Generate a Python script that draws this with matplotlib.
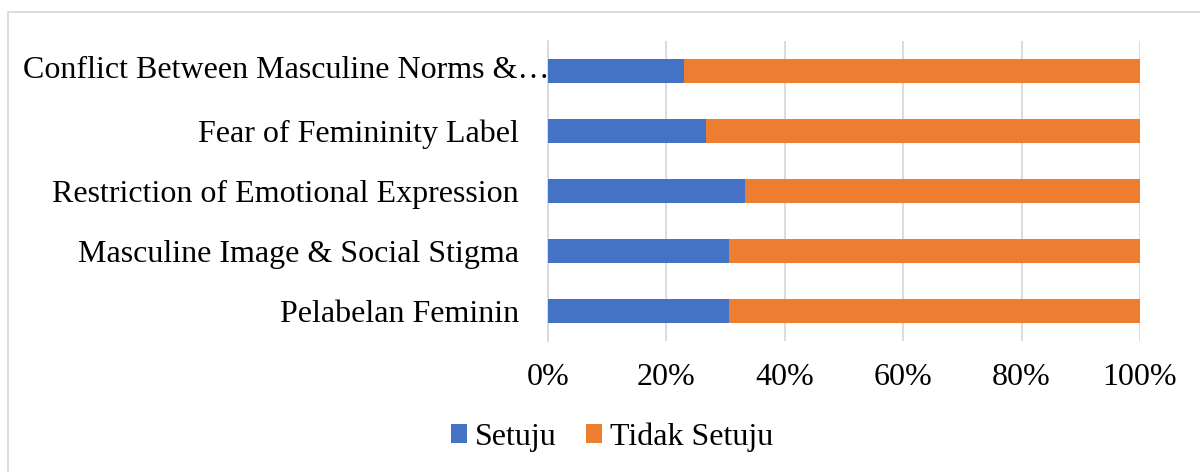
import matplotlib
matplotlib.use("Agg")
import matplotlib.pyplot as plt
from matplotlib.patches import Rectangle
from matplotlib.ticker import FuncFormatter, MultipleLocator

categories = [
    "Pelabelan Feminin",
    "Masculine Image & Social Stigma",
    "Restriction of Emotional Expression",
    "Fear of Femininity Label",
    "Conflict Between Masculine Norms &\u2026",
]
setuju = [30.6, 30.6, 33.2, 26.7, 22.9]
tidak_setuju = [100 - v for v in setuju]
series_names = ["Setuju", "Tidak Setuju"]
colors = ["#4472C4", "#ED7D31"]

plt.rcParams["font.family"] = ["Liberation Serif", "DejaVu Serif"]
FS = 23

fig = plt.figure(figsize=(12, 4.72), dpi=100)
W, H = 1200, 472
left, right, top, bottom = 548, 1140, 41, 341
ax = fig.add_axes([left / W, 1 - bottom / H, (right - left) / W, (bottom - top) / H])

y = list(range(len(categories)))
ax.barh(y, setuju, height=0.4, color=colors[0], label=series_names[0], zorder=3)
ax.barh(y, tidak_setuju, left=setuju, height=0.4, color=colors[1], label=series_names[1], zorder=3)

ax.set_xlim(0, 100)
ax.set_ylim(-0.5, len(categories) - 0.5)
ax.set_yticks(y)
# the last (truncated) label sits right against the axis in the reference
ax.set_yticklabels(categories[:-1] + [""], fontsize=FS)
ax.text(0.002, y[-1], categories[-1], transform=ax.get_yaxis_transform(),
        ha="right", va="center", fontsize=FS, zorder=5)
ax.xaxis.set_major_locator(MultipleLocator(20))
ax.xaxis.set_major_formatter(FuncFormatter(lambda v, p: f"{int(round(v))}%"))
ax.tick_params(axis="x", labelsize=FS, length=0, pad=16)
ax.tick_params(axis="y", length=0, pad=21)
ax.grid(axis="x", color="#D9D9D9", linewidth=1.3, zorder=0)
for s in ["top", "right", "bottom"]:
    ax.spines[s].set_visible(False)
ax.spines["left"].set_color("#D9D9D9")
ax.spines["left"].set_linewidth(1.3)

handles, labels = ax.get_legend_handles_labels()
fig.legend(handles, labels, loc="center", bbox_to_anchor=(612 / W, 1 - 437 / H),
           ncol=2, frameon=False, fontsize=FS, handlelength=0.5, handleheight=0.5,
           handletextpad=0.25, columnspacing=0.9)

fig.patches.append(Rectangle((7.5 / W, -0.05), 1.1, 1.05 - 12 / H, transform=fig.transFigure,
                             fill=False, edgecolor="#D9D9D9", linewidth=1.3, clip_on=False))

fig.savefig("out.png", dpi=100)
